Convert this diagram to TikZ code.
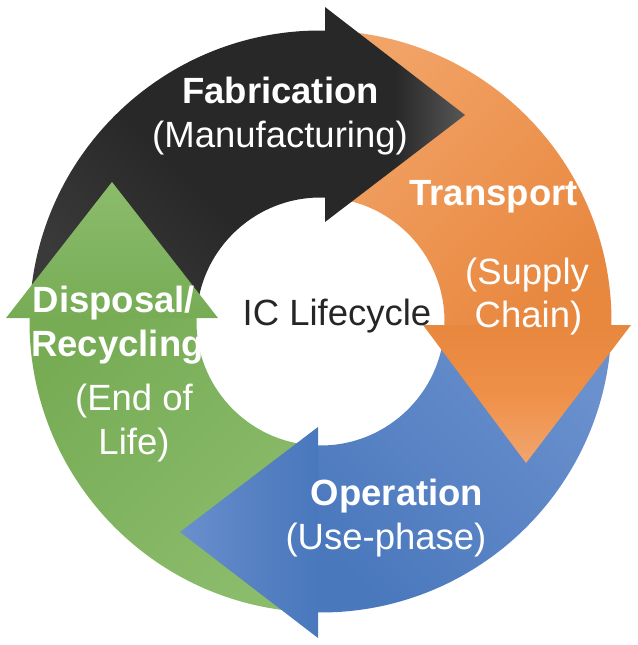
\documentclass[tikz,border=0pt]{standalone}
\usepackage{fontspec}
\setmainfont{Liberation Sans}
\definecolor{blkA}{HTML}{282828}
\definecolor{blkB}{HTML}{3A3A3A}
\definecolor{blkT}{HTML}{575757}
\definecolor{orA}{HTML}{F2A367}
\definecolor{orB}{HTML}{E8873E}
\definecolor{orM}{HTML}{EF9048}
\definecolor{orT}{HTML}{F1A56E}
\definecolor{blA}{HTML}{6A90CD}
\definecolor{blB}{HTML}{4A78BD}
\definecolor{grA}{HTML}{8BBC6C}
\definecolor{grB}{HTML}{77AC55}
\definecolor{txtdark}{HTML}{262626}
\begin{document}
\begin{tikzpicture}[x=1bp,y=1bp,
  lbl/.style={text=white, inner sep=0pt, anchor=base, font=\fontsize{36.5bp}{40bp}\selectfont},
  lblb/.style={text=white, inner sep=0pt, anchor=base, font=\fontsize{36.5bp}{40bp}\selectfont\bfseries},
  ctr/.style={text=txtdark, inner sep=0pt, anchor=base, font=\fontsize{36.5bp}{40bp}\selectfont},
  ]
\useasboundingbox (0,0) rectangle (638,-645);
\begin{scope}[shift={(320.5,-321.5)}]
  % ring bodies
  \path[top color=blkA, bottom color=blkB, middle color=blkA, shading angle=-45]
    (177.5:291) arc[start angle=177.5, end angle=87.5, radius=291]
    -- (87.5:124) arc[start angle=87.5, end angle=177.5, radius=124] -- cycle;
  \path[top color=orA, bottom color=orB, shading angle=45]
    (87.5:291) arc[start angle=87.5, end angle=-2.5, radius=291]
    -- (-2.5:124) arc[start angle=-2.5, end angle=87.5, radius=124] -- cycle;
  \path[top color=blA, bottom color=blB, shading angle=-45]
    (-2.5:291) arc[start angle=-2.5, end angle=-92.5, radius=291]
    -- (-92.5:124) arc[start angle=-92.5, end angle=-2.5, radius=124] -- cycle;
  \path[top color=grB, bottom color=grA, shading angle=45]
    (-92.5:291) arc[start angle=-92.5, end angle=-182.5, radius=291]
    -- (-182.5:124) arc[start angle=-182.5, end angle=-92.5, radius=124] -- cycle;
  % arrow heads
  \coordinate (bA) at (4.5,314.5);
  \coordinate (bB) at (4.5,99.5);
  \coordinate (bT) at (144.5,206.5);
  \path[left color=blkA, right color=blkT, middle color=blkA]
    (bA) -- (bT) -- (bB) -- cycle;
  \coordinate (oA) at (102.5,-3.5);
  \coordinate (oB) at (310.5,-3.5);
  \coordinate (oT) at (205.5,-141.5);
  \path[top color=orB, bottom color=orT, middle color=orM]
    (oA) -- (oB) -- (oT) -- cycle;
  \coordinate (uA) at (-2.5,-105.5);
  \coordinate (uB) at (-2.5,-316.5);
  \coordinate (uT) at (-140.5,-210.5);
  \path[right color=blB, left color=blA, middle color=blB!60!blA]
    (uA) -- (uB) -- (uT) -- cycle;
  \coordinate (gA) at (-314.5,3.5);
  \coordinate (gB) at (-102.5,3.5);
  \coordinate (gT) at (-208.5,139.5);
  \path[bottom color=grB, top color=grA, middle color=grB!50!grA]
    (gA) -- (gB) -- (gT) -- cycle;
\end{scope}
% labels
\node[lblb] (fab) at (280.5,-104) {Fabrication};
\node[lbl] (man) at (280,-148) {(Manufacturing)};
\node[lblb] (tra) at (493.5,-205) {Transport};
\node[lbl] (sup) at (527,-284) {(Supply};
\node[lbl] (cha) at (528.5,-327) {Chain)};
\node[lblb] (dis) at (114,-312) {Disposal/};
\node[lblb] (rec) at (117.5,-356) {Recycling};
\node[lbl] (end) at (134,-410) {(End of};
\node[lbl] (lif) at (134,-454) {Life)};
\node[lblb] (ope) at (397,-505) {Operation};
\node[lbl] (use) at (386,-549) {(Use-phase)};
\node[ctr] (ic) at (337,-325) {IC Lifecycle};
\end{tikzpicture}
\end{document}
